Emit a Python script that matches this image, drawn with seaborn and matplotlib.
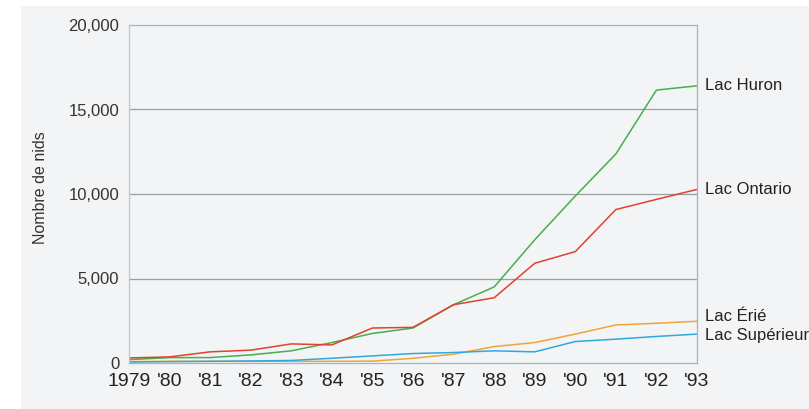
import matplotlib
matplotlib.use("Agg")
import matplotlib.pyplot as plt
from matplotlib.patches import Rectangle
import matplotlib.transforms as mtransforms
import seaborn as sns
import pandas as pd

years = list(range(1979, 1994))
year_labels = ["1979", "'80", "'81", "'82", "'83", "'84", "'85", "'86",
               "'87", "'88", "'89", "'90", "'91", "'92", "'93"]

huron = [200, 320, 320, 480, 720, 1210, 1750, 2070, 3450, 4500, 7290, 9880, 12370, 16150, 16400]
ontario = [300, 360, 660, 760, 1130, 1070, 2070, 2110, 3450, 3860, 5900, 6590, 9080, 9680, 10270]
erie = [80, 100, 100, 100, 100, 100, 110, 280, 520, 970, 1210, 1710, 2250, 2350, 2470]
superieur = [60, 80, 100, 120, 150, 280, 420, 560, 620, 720, 660, 1270, 1410, 1570, 1710]

lakes = ["Lac Huron", "Lac Ontario", "Lac Érié", "Lac Supérieur"]
series = [huron, ontario, erie, superieur]
colors = ["#45b04c", "#e0432c", "#f2a337", "#2ea9e0"]

rows = []
for lake, vals in zip(lakes, series):
    for y, v in zip(years, vals):
        rows.append({"Année": y, "Nids": v, "Lac": lake})
df = pd.DataFrame(rows)

sns.set_style("white")
plt.rcParams["font.family"] = ["Liberation Sans", "DejaVu Sans"]

fig = plt.figure(figsize=(8.09, 4.09), dpi=100, facecolor="white")
bg = Rectangle((21 / 809, 0), 1, 1 - 6 / 409, transform=fig.transFigure,
               facecolor="#f2f4f6", edgecolor="none", zorder=-10)
fig.add_artist(bg)
ax = fig.add_axes([129 / 809, 1 - 363 / 409, (697 - 129) / 809, (363 - 25) / 409])
ax.set_zorder(1)
ax.set_facecolor("#f2f4f6")

sns.lineplot(data=df, x="Année", y="Nids", hue="Lac", palette=dict(zip(lakes, colors)),
             linewidth=1.1, ax=ax, legend=False)

ax.set_xlim(1979, 1993)
ax.set_ylim(0, 20000)
ax.set_xticks(years)
ax.set_xticklabels(year_labels, fontsize=14, color="#222222")
ax.set_yticks([0, 5000, 10000, 15000, 20000])
ax.set_yticklabels(["0", "5,000", "10,000", "15,000", "20,000"], fontsize=12, color="#333333")
ax.tick_params(axis="x", length=0, pad=7)
ax.tick_params(axis="y", length=0, pad=7)
ax.set_xlabel("")
ax.set_ylabel("Nombre de nids", fontsize=11.5, color="#333333")
ax.yaxis.set_label_coords(-0.143, 0.518)

for v in [5000, 10000, 15000]:
    ax.axhline(v, color="#9aa0a0", linewidth=0.9, zorder=1)
for side in ["top", "right", "bottom"]:
    ax.spines[side].set_color("#a9b4b4")
    ax.spines[side].set_linewidth(0.9)
ax.spines["left"].set_color("#a8cfe0")
ax.spines["left"].set_linewidth(0.9)

trans = mtransforms.blended_transform_factory(ax.transAxes, ax.transData)
offsets = [0, 0, 310, -110]
for lake, vals, off in zip(lakes, series, offsets):
    ax.text(1.014, vals[-1] + off, lake, transform=trans, fontsize=12,
            color="#222222", va="center", ha="left", clip_on=False)

fig.savefig("out.png", dpi=100, facecolor=fig.get_facecolor())
